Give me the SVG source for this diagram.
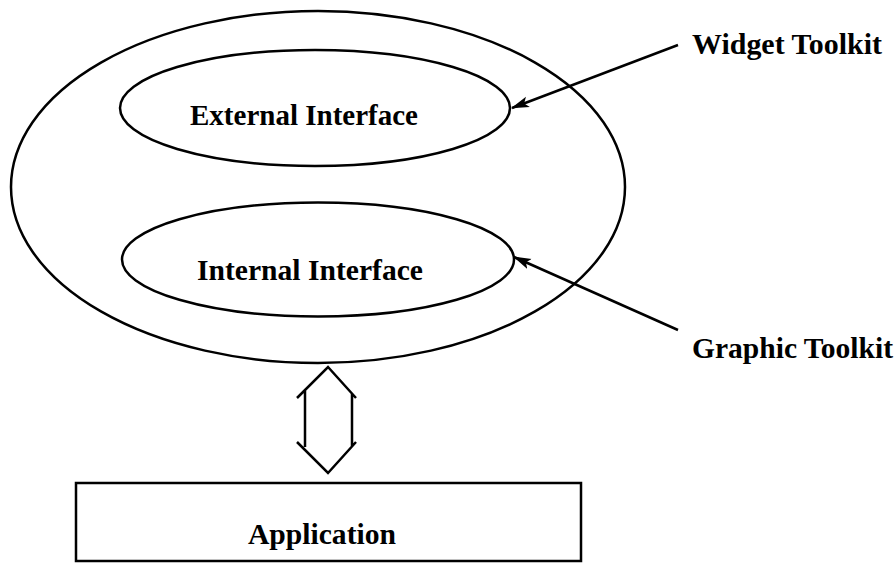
<svg xmlns="http://www.w3.org/2000/svg" width="896" height="564" viewBox="0 0 896 564">
<style>
.ln{fill:none;stroke:#000;stroke-width:2.5}
.tx{font-family:"Liberation Serif","Times New Roman",serif;font-weight:bold;font-size:29px;fill:#000}
</style>
<defs>
<marker id="ah" markerWidth="18" markerHeight="12" refX="17" refY="6" orient="auto" markerUnits="userSpaceOnUse">
<path d="M0,0.5 L18,6 L0,11.5 L4,6 Z" fill="#000"/>
</marker>
</defs>
<rect width="896" height="564" fill="#fff"/>
<g id="outer"><ellipse class="ln" cx="318" cy="187" rx="307" ry="176"/></g>
<g id="external"><ellipse class="ln" cx="315" cy="108" rx="195" ry="58"/>
<text class="tx" x="190" y="125" textLength="228" lengthAdjust="spacingAndGlyphs">External Interface</text></g>
<g id="internal"><ellipse class="ln" cx="318" cy="259.5" rx="196" ry="57"/>
<text class="tx" x="197" y="280" textLength="226" lengthAdjust="spacingAndGlyphs">Internal Interface</text></g>
<g id="widget"><text class="tx" x="692" y="54" textLength="190" lengthAdjust="spacingAndGlyphs">Widget Toolkit</text></g>
<g id="graphic"><text class="tx" x="692" y="358" textLength="201" lengthAdjust="spacingAndGlyphs">Graphic Toolkit</text></g>
<g id="application"><rect class="ln" x="76" y="483" width="505" height="78"/>
<text class="tx" x="248" y="544" textLength="148" lengthAdjust="spacingAndGlyphs">Application</text></g>
<g id="connectors">
<line class="ln" x1="678" y1="45" x2="512" y2="108" marker-end="url(#ah)"/>
<line class="ln" x1="678" y1="330" x2="514" y2="257" marker-end="url(#ah)"/>
<path class="ln" d="M297,398 L328,367 L356,398 M305,390 L305,447 M352,393 L352,447 M297,442 L328,473 L356,442"/>
</g>
</svg>
